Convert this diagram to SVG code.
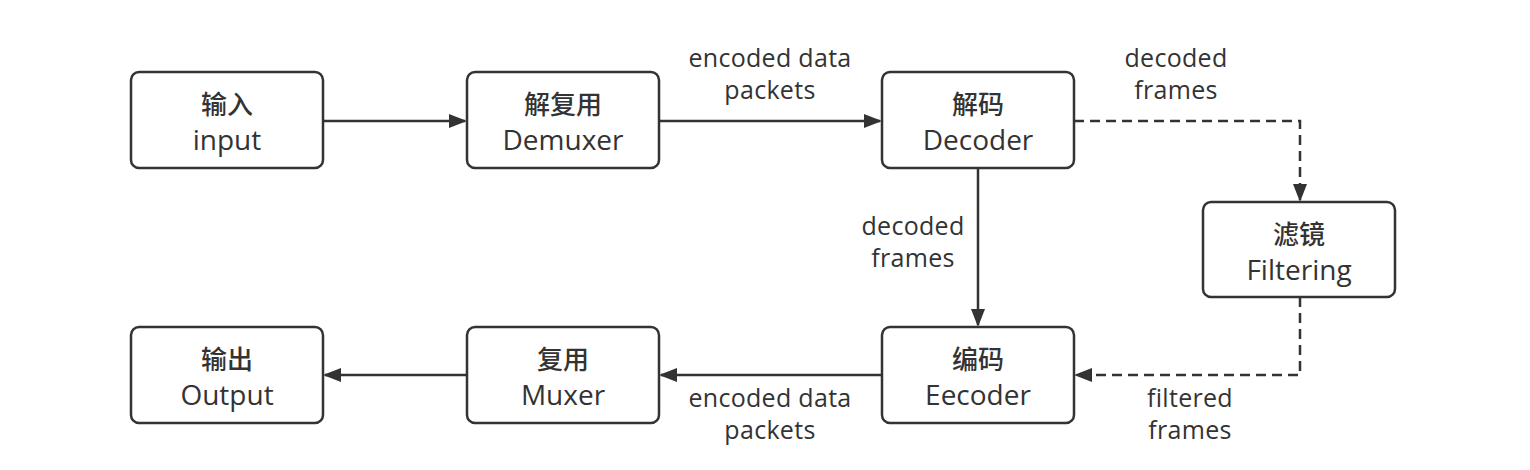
<svg xmlns="http://www.w3.org/2000/svg" width="1530" height="470" viewBox="0 0 1530 470">
<style>
.box{fill:#ffffff;stroke:#333333;stroke-width:2.5}
.t{font-family:"Open Sans","Noto Sans CJK SC",sans-serif;fill:#333333;text-anchor:middle}
.zh{font-family:"Noto Sans CJK SC",sans-serif;font-size:26px;font-weight:500}
.en{font-size:28px}
.lb{font-size:25px;letter-spacing:0.3px}
.ln{fill:none;stroke:#333333;stroke-width:2.5}
.dash{stroke-dasharray:10 6}
</style>
<defs>
<marker id="arr" markerWidth="18" markerHeight="14" refX="16" refY="7" orient="auto" markerUnits="userSpaceOnUse">
<path d="M0,0 L18,7 L0,14 Z" fill="#333333"/>
</marker>
</defs>
<rect width="1530" height="470" fill="#ffffff"/>
<g id="connectors">
<line class="ln" x1="323" y1="121" x2="465" y2="121" marker-end="url(#arr)"/>
<line class="ln" x1="659" y1="121" x2="880" y2="121" marker-end="url(#arr)"/>
<polyline class="ln dash" points="1074,121 1300,121 1300,200" marker-end="url(#arr)"/>
<line class="ln" x1="978" y1="168" x2="978" y2="325" marker-end="url(#arr)"/>
<polyline class="ln dash" points="1300,297 1300,375 1076,375" marker-end="url(#arr)"/>
<line class="ln" x1="882" y1="375" x2="661" y2="375" marker-end="url(#arr)"/>
<line class="ln" x1="467" y1="375" x2="325" y2="375" marker-end="url(#arr)"/>
<text class="t lb" x="770" y="67">encoded data</text>
<text class="t lb" x="770" y="99">packets</text>
<text class="t lb" x="1176" y="67">decoded</text>
<text class="t lb" x="1176" y="99">frames</text>
<text class="t lb" x="913" y="235">decoded</text>
<text class="t lb" x="913" y="267">frames</text>
<text class="t lb" x="770" y="407">encoded data</text>
<text class="t lb" x="770" y="439">packets</text>
<text class="t lb" x="1190" y="407">filtered</text>
<text class="t lb" x="1190" y="439">frames</text>
</g>
<g id="input">
<rect class="box" x="131" y="72" width="192" height="96" rx="8"/>
<text class="t zh" x="227" y="114">输入</text>
<text class="t en" x="227" y="150">input</text>
</g>
<g id="demuxer">
<rect class="box" x="467" y="72" width="192" height="96" rx="8"/>
<text class="t zh" x="563" y="114">解复用</text>
<text class="t en" x="563" y="150">Demuxer</text>
</g>
<g id="decoder">
<rect class="box" x="882" y="72" width="192" height="96" rx="8"/>
<text class="t zh" x="978" y="114">解码</text>
<text class="t en" x="978" y="150">Decoder</text>
</g>
<g id="filtering">
<rect class="box" x="1203" y="202" width="192" height="95" rx="8"/>
<text class="t zh" x="1299" y="244">滤镜</text>
<text class="t en" x="1299" y="280">Filtering</text>
</g>
<g id="encoder">
<rect class="box" x="882" y="327" width="192" height="96" rx="8"/>
<text class="t zh" x="978" y="369">编码</text>
<text class="t en" x="978" y="405">Eecoder</text>
</g>
<g id="muxer">
<rect class="box" x="467" y="327" width="192" height="96" rx="8"/>
<text class="t zh" x="563" y="369">复用</text>
<text class="t en" x="563" y="405">Muxer</text>
</g>
<g id="output">
<rect class="box" x="131" y="327" width="192" height="96" rx="8"/>
<text class="t zh" x="227" y="369">输出</text>
<text class="t en" x="227" y="405">Output</text>
</g>
</svg>
